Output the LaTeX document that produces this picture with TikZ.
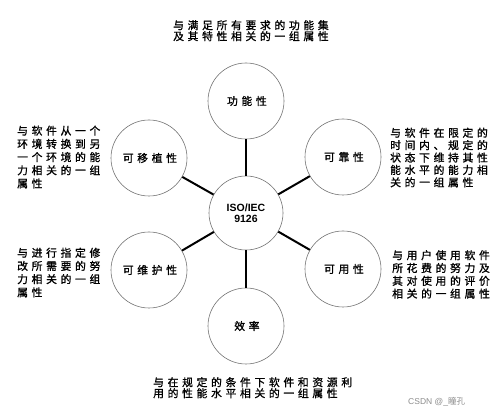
\documentclass[tikz,border=0pt]{standalone}
\usepackage{fontspec}
\setmainfont{Liberation Sans}
\newfontfamily\cjk[LetterSpace=34,FakeBold=1.2]{Noto Sans CJK SC}
\newfontfamily\cjkplain{Noto Sans CJK SC}
\tikzset{
  q/.style={circle,draw=black!55,line width=0.6pt,minimum size=76pt,inner sep=0pt,font=\cjk\fontsize{10.8}{12}\selectfont},
  hub/.style={circle,draw=black!55,line width=0.6pt,minimum size=74pt,inner sep=0pt,align=center,font=\bfseries\fontsize{10.5}{11.5}\selectfont},
  desc/.style={inner sep=0pt,align=left,anchor=north west,font=\cjk\fontsize{10.8}{13.2}\selectfont},
  descw/.style={desc,font=\cjk\fontsize{10.8}{11}\selectfont},
  ln/.style={line width=2pt},
}
\begin{document}
\begin{tikzpicture}[x=1pt,y=-1pt]
\useasboundingbox (0,0) rectangle (499,414);
\node[hub] (iso) at (246,213){ISO/IEC\\9126};
\node[q] (func) at (246,101){\hspace{1.8pt}功能性}; \node[q] (eff) at (246,326){\hspace{1.8pt}效率};
\node[q] (port) at (149,158){\hspace{1.8pt}可移植性}; \node[q] (rel) at (343,157){\hspace{1.8pt}可靠性};
\node[q] (maint) at (149,270){\hspace{1.8pt}可维护性}; \node[q] (usab) at (343,269){\hspace{1.8pt}可用性};
\draw[ln] (iso)--(func); \draw[ln] (iso)--(eff); \draw[ln] (iso)--(port);
\draw[ln] (iso)--(rel); \draw[ln] (iso)--(maint); \draw[ln] (iso)--(usab);
\node[descw] (tfunc) at (173,20){与满足所有要求的功能集\\及其特性相关的一组属性};
\node[desc] (tport) at (17,125.5){与软件从一个\\环境转换到另\\一个环境的能\\力相关的一组\\属性};
\node[desc,font=\cjk\fontsize{10.8}{12.4}\selectfont] (trel) at (390,127.5){与软件在限定的\\时间内、规定的\\状态下维持其性\\能水平的能力相\\关的一组属性};
\node[desc] (tmaint) at (17,247.5){与进行指定修\\改所需要的努\\力相关的一组\\属性};
\node[desc,font=\cjk\fontsize{10.8}{12.8}\selectfont] (tusab) at (392,250){与用户使用软件\\所花费的努力及\\其对使用的评价\\相关的一组属性};
\node[descw] (teff) at (153,377){与在规定的条件下软件和资源利\\用的性能水平相关的一组属性};
\node[text=black!45,font=\fontsize{8.5}{10}\selectfont,inner sep=0pt,anchor=west] (mark) at (408,402){CSDN @\_{\cjkplain 瞳孔}};
\end{tikzpicture}
\end{document}
